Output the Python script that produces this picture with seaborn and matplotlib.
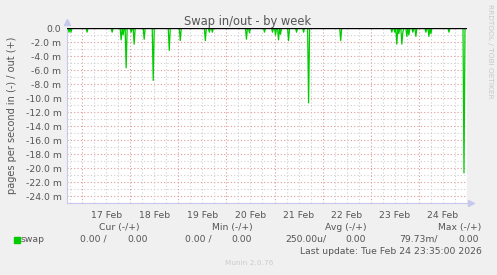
import numpy as np
import pandas as pd
import matplotlib
matplotlib.use("Agg")
import matplotlib.pyplot as plt
from matplotlib.ticker import MultipleLocator, FuncFormatter
import seaborn as sns

# ---- data (values in milli pages/s; hours relative to 17 Feb 00:00) ----
spike_hours = [-6.5, -5.5, 2.5, 15.0, 19.5, 20.5, 22.0, 24.5, 26.0, 31.0,
               35.5, 43.5, 49.0, 61.5, 63.5, 65.0, 82.0, 83.5, 91.0, 95.0,
               96.5, 98.0, 99.0, 103.0, 107.0, 110.5, 113.0, 129.0, 154.5, 156.0,
               157.0, 158.0, 159.5, 160.0, 162.0, 163.0, 165.0, 166.5, 171.5, 173.0,
               174.0, 183.0, 190.5]
spike_vals = [-0.6, -0.6, -0.6, -0.6, -1.7, -1.0, -5.7, -0.6, -2.3, -1.6,
              -7.5, -3.2, -1.8, -1.8, -0.6, -0.6, -1.6, -0.7, -0.6, -0.6,
              -1.0, -1.7, -0.9, -1.8, -0.6, -0.6, -10.7, -1.8, -0.6, -0.6,
              -2.3, -0.8, -2.3, -0.6, -1.2, -1.0, -0.6, -1.2, -0.6, -1.2,
              -0.8, -0.6, -20.7]
series_start_h = -7.5
series_end_h = 191.0
day_labels = ["17 Feb", "18 Feb", "19 Feb", "20 Feb", "21 Feb", "22 Feb", "23 Feb", "24 Feb"]
legend_cols = ["Cur (-/+)", "Min (-/+)", "Avg (-/+)", "Max (-/+)"]
legend_in = ["0.00 /", "0.00 /", "250.00u/", "79.73m/"]
legend_out = ["0.00", "0.00", "0.00", "0.00"]

base = pd.Timestamp("2026-02-17 00:00")
lookup = {round(h * 2): v for h, v in zip(spike_hours, spike_vals)}
slots = np.arange(round(series_start_h * 2), round(series_end_h * 2) + 1)
df = pd.DataFrame({
    "time": [base + pd.Timedelta(hours=s / 2) for s in slots],
    "value": [lookup.get(int(s), 0.0) for s in slots],
})

# ---- style ----
sns.set_theme(style="white")
plt.rcParams["font.family"] = ["DejaVu Sans"]
BG = "#f0f0f0"
TXT = "#555555"
W, H = 497, 275
fig = plt.figure(figsize=(W / 100, H / 100), dpi=100, facecolor=BG)
ax = fig.add_axes([67 / W, 1 - 203 / H, 400 / W, 175 / H])
ax.set_facecolor("white")

sns.lineplot(data=df, x="time", y="value", ax=ax, color="#00cc00", lw=0.9, zorder=3)
ax.axhline(0, color="black", lw=1.0, zorder=4)

ax.set_xlim(base + pd.Timedelta(hours=-7.5), base + pd.Timedelta(hours=192))
ax.set_ylim(-25, 0)

# grid
ax.yaxis.set_major_locator(MultipleLocator(2))
ax.yaxis.set_minor_locator(MultipleLocator(1))
ax.yaxis.set_major_formatter(FuncFormatter(lambda v, p: "0.0" if abs(v) < 1e-9 else f"{v:.1f} m"))
ax.grid(False)
for v in np.arange(-25, 0.1, 1):
    if v == 0 or v == -25:
        continue
    col = "#e09a9a" if v % 2 == 0 else "#cfcfcf"
    ax.axhline(v, color=col, lw=0.8, ls=(0, (1, 2)), zorder=1)
grid_times = pd.date_range(base - pd.Timedelta(hours=6), base + pd.Timedelta(hours=192), freq="6h")
for t in grid_times:
    col = "#e09a9a" if t.hour == 0 else "#cfcfcf"
    ax.axvline(t, color=col, lw=0.8, ls=(0, (1, 2)), zorder=1)

noon = [base + pd.Timedelta(hours=12 + 24 * i) for i in range(len(day_labels))]
ax.set_xticks(noon)
ax.set_xticklabels(day_labels)
ax.tick_params(axis="both", labelsize=6.7, colors=TXT, length=0, pad=4)
ax.tick_params(axis="x", pad=6)
ax.set_xlabel("")
ax.set_ylabel("pages per second in (-) / out (+)", fontsize=7, color=TXT, labelpad=6)

for s in ["top", "right"]:
    ax.spines[s].set_visible(False)
for s in ["left", "bottom"]:
    ax.spines[s].set_color("#c8c8ee")
    ax.spines[s].set_linewidth(0.8)
ax.plot([0], [1.035], marker="^", color="#c8c8ee", ms=4, transform=ax.transAxes, clip_on=False)
ax.plot([1.01], [0], marker=">", color="#c8c8ee", ms=4, transform=ax.transAxes, clip_on=False)

def ft(x, y, s, **kw):
    kw.setdefault("color", TXT)
    kw.setdefault("fontsize", 6.7)
    kw.setdefault("va", "center")
    fig.text(x / W, 1 - y / H, s, **kw)

ft(248, 21, "Swap in/out - by week", fontsize=8.3, ha="center")
ft(490, 51, "RRDTOOL / TOBI OETIKER", fontsize=5.3, color="#c8c8c8", ha="center", rotation=-90)

col_centers = [119.5, 232, 345.5, 459.7]
for c, lab in zip(col_centers, legend_cols):
    ft(c, 227.5, lab, ha="center")
fig.patches.append(plt.Rectangle((14 / W, 1 - 243 / H), 6 / W, 6 / H, transform=fig.transFigure,
                                 color="#00cc00", figure=fig))
ft(21, 239.5, "swap", ha="left")
in_right = [107, 212, 326, 437.3]
out_right = [147.7, 252, 366, 479.3]
for r, s in zip(in_right, legend_in):
    ft(r, 239.5, s, ha="right")
for r, s in zip(out_right, legend_out):
    ft(r, 239.5, s, ha="right")
ft(482, 251, "Last update: Tue Feb 24 23:35:00 2026", ha="right")
ft(225, 263, "Munin 2.0.76", fontsize=5.3, color="#cccccc", ha="left")

fig.savefig("out.png", dpi=100, facecolor=BG)
